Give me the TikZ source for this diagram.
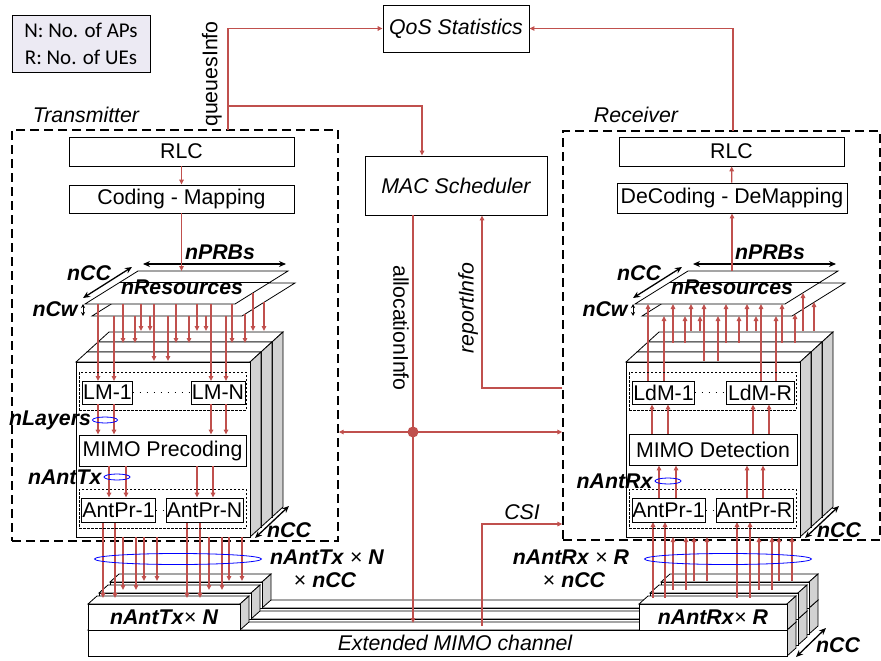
\documentclass[tikz,border=0pt]{standalone}
\usepackage{fontspec}
\setmainfont{Liberation Sans}
\newfontfamily\legendfont{Carlito}
\usetikzlibrary{arrows.meta,positioning,shapes.geometric,calc}

\definecolor{linkred}{RGB}{192,80,77}
\definecolor{sidegray}{RGB}{210,210,210}
\definecolor{legendbg}{RGB}{236,234,243}

\tikzset{
  box/.style={draw, line width=0.8pt, fill=white, inner sep=0.5pt},
  face/.style={draw, line width=0.8pt, fill=white},
  lbl/.style={font=\fontsize{21.3}{24}\selectfont\bfseries\itshape, inner sep=0pt},
  rarr/.style={draw=linkred, line width=1.3pt, ->},
  rline/.style={draw=linkred, line width=1.3pt},
  dimarr/.style={line width=1.3pt, {Stealth[length=7pt,width=6pt]}-{Stealth[length=7pt,width=6pt]}},
  bigdash/.style={draw, line width=1.3pt, dash pattern=on 9pt off 5pt, inner sep=0pt},
  grpdash/.style={draw, line width=0.9pt, dash pattern=on 2.5pt off 1.5pt, inner sep=0pt},
  dotline/.style={line width=0.8pt, dash pattern=on 1pt off 6pt},
  ring/.style={ellipse, draw=blue, line width=0.8pt, inner sep=0pt},
}

% one slab: front top-left corner, width, height, depth dx dy
\newcommand{\slab}[6]{%
  \filldraw[face] (#1,#2) -- ++(#5,-#6) -- ++(#3,0) -- ++(-#5,#6) -- cycle;
  \filldraw[face,fill=sidegray] (#1+#3,#2) -- ++(#5,-#6) -- ++(0,#4) -- ++(-#5,#6) -- cycle;
  \filldraw[face] (#1,#2) rectangle ++(#3,#4);
}

% resource grid over the carrier slabs; #1 arrow direction, #2 name prefix
\newcommand{\gridstack}[2]{%
  \foreach \k in {2,1,0}{\slab{76+11*\k}{362-10*\k}{174}{175}{11}{10}}
  \filldraw[face] (145,283) -- (295,283) -- (242,316) -- (92,316) -- cycle;
  \filldraw[face] (138,271) -- (288,271) -- (235,304) -- (85,304) -- cycle;
  \draw[face] (120,282) -- (271,282);
  \foreach \x/\ya/\yb in {98/304/381,114/316/381,123/304/343,135/316/343,141/304/331,150/316/331,
      154/304/361,168/316/361,176/304/343,189/316/343,197/304/331,206/316/331,211/304/381,226/316/381,
      232/304/343,245/314/343,253/293/331,264/302/331}
    \draw[rarr,#1] (\x,\ya) -- (\x,\yb);
  \foreach \x/\ya/\yb in {103/522/598,115/522/598,187/522/598,200/522/598,123/537/590,136/537/590,
      209/537/590,222/537/590,144/537/581,157/537/581,229/537/581,242/537/581}
    \draw[rarr,#1] (\x,\ya) -- (\x,\yb);
  \draw[dimarr] (143,264) -- (286,264);
  \node[lbl] (#2prb) at (220,252) {nPRBs};
  \node[lbl] (#2res) at (182,287) {nResources};
  \draw[dimarr] (132,267) -- (83,298);
  \node[lbl] (#2cc) at (89,273) {nCC};
  \draw[line width=0.8pt, {Stealth[length=4pt,width=4pt]}-{Stealth[length=4pt,width=4pt]}] (83,304) -- (83,316);
  \node[lbl] (#2cw) at (55,309) {nCw};
  \draw[dimarr] (255,538) -- (289,506);
  \node[lbl] (#2slabcc) at (289,530) {nCC};
  \node[ring, minimum width=167, minimum height=11] (#2ring) at (178,559) {};
}

\begin{document}
\begin{tikzpicture}[x=1pt, y=-1pt, font=\fontsize{21.3}{24}\selectfont, >={Triangle[length=5pt,width=4.5pt]}]
\useasboundingbox (0,0) rectangle (881,661);

% legend and shared blocks
\node[draw, line width=0.8pt, fill=legendbg, minimum width=138, minimum height=57, align=center,
  font=\legendfont\fontsize{21}{27}\selectfont] (legend) at (81,43.5) {N: No. of APs\\R: No. of UEs};
\node[box, minimum width=146, minimum height=47] (qos) at (456,28.5) {\itshape QoS Statistics};
\node[box, minimum width=182, minimum height=59] (mac) at (456,185.5) {\itshape MAC Scheduler};

% frames
\node[bigdash, minimum width=326, minimum height=411] (txBox) at (175,335.5) {};
\node[bigdash, minimum width=317, minimum height=409] (rxBox) at (721.5,335.5) {};
\node (txName) at (86,115) {\itshape Transmitter};
\node (rxName) at (636,115) {\itshape Receiver};

% channel
\foreach \k in {2,1,0}{
  \slab{88+11*\k}{630-11*\k}{699}{26}{9}{8}
  \slab{88+11*\k}{604-11*\k}{152}{26}{9}{8}
  \slab{639+11*\k}{604-11*\k}{148}{26}{9}{8}
}
\node[lbl] (txAnt) at (164,617) {nAntTx\textnormal{×} N};
\node[lbl] (rxAnt) at (713,617) {nAntRx\textnormal{×} R};
\node (chName) at (455,643) {\itshape Extended MIMO channel};
\draw[dimarr] (796,657) -- (826,628);
\node[lbl] (chCC) at (838,645) {nCC};
\node[lbl] (txSumA) at (327,557) {nAntTx \textnormal{×} N};
\node[lbl] (txSumB) at (325,580) {\textnormal{×} nCC};
\node[lbl] (rxSumA) at (571,557) {nAntRx \textnormal{×} R};
\node[lbl] (rxSumB) at (574,580) {\textnormal{×} nCC};

% transmitter
\begin{scope}
\gridstack{->}{t}
\node[grpdash, minimum width=167, minimum height=38] (lmGrp) at (162.5,391) {};
\node[box, minimum width=49, minimum height=23] (lmA) at (107.5,392.5) {LM-1};
\node[box, minimum width=54, minimum height=23] (lmN) at (218,392.5) {LM-N};
\draw[dotline] (lmA) -- (lmN);
\node[box, minimum width=167, minimum height=31] (prec) at (162.5,450.5) {MIMO Precoding};
\node[grpdash, minimum width=167, minimum height=39] (apGrp) at (162.5,508.5) {};
\node[box, minimum width=71, minimum height=24] (apA) at (118.5,510) {AntPr-1};
\node[box, minimum width=77, minimum height=24] (apN) at (204.5,510) {AntPr-N};
\draw[dotline] (apA) -- (apN);
\foreach \x in {98,114} \draw[rarr] (\x,0 |- lmA.south) -- (\x,0 |- prec.north);
\foreach \x in {211,226} \draw[rarr] (\x,0 |- lmN.south) -- (\x,0 |- prec.north);
\foreach \x in {109,126} \draw[rarr] (\x,0 |- prec.south) -- (\x,0 |- apA.north);
\foreach \x in {197,213} \draw[rarr] (\x,0 |- prec.south) -- (\x,0 |- apN.north);
\node[ring, minimum width=25, minimum height=6] (layRing) at (105,420) {};
\node[lbl, left=1pt of layRing] (layLbl) {nLayers};
\node[ring, minimum width=26, minimum height=6] (txRing) at (117,477) {};
\node[lbl, left=2pt of txRing] (txLbl) {nAntTx};
\end{scope}

% receiver
\begin{scope}[xshift=550pt]
\gridstack{<-}{r}
\node[grpdash, minimum width=167, minimum height=38] (ldGrp) at (162.5,391) {};
\node[box, minimum width=61, minimum height=23] (ldA) at (113.5,392.5) {LdM-1};
\node[box, minimum width=68, minimum height=23] (ldR) at (210,392.5) {LdM-R};
\draw[dotline] (ldA) -- (ldR);
\node[box, minimum width=168, minimum height=31] (det) at (163,449.5) {MIMO Detection};
\node[grpdash, minimum width=167, minimum height=39] (arGrp) at (162.5,508.5) {};
\node[box, minimum width=71, minimum height=24] (arA) at (118.5,510) {AntPr-1};
\node[box, minimum width=77, minimum height=24] (arR) at (204.5,510) {AntPr-R};
\draw[dotline] (arA) -- (arR);
\foreach \x in {102,118} \draw[rarr] (\x,0 |- det.north) -- (\x,0 |- ldA.south);
\foreach \x in {203,219} \draw[rarr] (\x,0 |- det.north) -- (\x,0 |- ldR.south);
\foreach \x in {109,126} \draw[rarr] (\x,0 |- arA.north) -- (\x,0 |- det.south);
\foreach \x in {197,213} \draw[rarr] (\x,0 |- arR.north) -- (\x,0 |- det.south);
\node[ring, minimum width=26, minimum height=6] (rxRing) at (118,481) {};
\node[lbl, left=2pt of rxRing] (rxLbl) {nAntRx};
\end{scope}

% upper layers
\node[box, minimum width=225, minimum height=29] (rlcT) at (181.5,151.5) {RLC};
\node[box, minimum width=225, minimum height=28] (codT) at (181.5,199) {Coding - Mapping};
\node[box, minimum width=225, minimum height=29] (rlcR) at (731.5,151.5) {RLC};
\node[box, minimum width=230, minimum height=30] (decR) at (732,198) {DeCoding - DeMapping};
\coordinate (gridT) at (182,271);
\coordinate (gridR) at (732,271);
\draw[rarr] (rlcT) -- (codT);
\draw[rarr] (codT.south) -- (codT.south |- gridT);
\draw[rarr] (decR) -- (rlcR);
\draw[rarr] (decR.south |- gridR) -- (decR.south);

% control links
\coordinate (qFoot) at (228,130);
\coordinate (qFork) at (228,106);
\coordinate (rFoot) at (733,131);
\draw[rarr] (qFoot) |- (qos.west);
\draw[rarr] (qFork) -| ([xshift=-34pt]mac.north);
\draw[rarr] (rFoot) |- (qos.east);
\node[rotate=90] (qLbl) at (212,74) {queuesInfo};

\coordinate (hub) at (413,432);
\coordinate (chTop) at (413,623);
\draw[rline] ([xshift=-43pt]mac.south) -- (hub);
\draw[rarr] (hub) -- (chTop);
\draw[rarr] (hub) -- (hub -| txBox.east);
\draw[rarr] (hub) -- (hub -| rxBox.west);
\node[circle, fill=linkred, inner sep=0pt, minimum size=11] (hubDot) at (hub) {};
\node[rotate=-90] (aLbl) at (401,328) {allocationInfo};

\draw[rarr] (rxBox.west |- 0,388) -| ([xshift=26pt]mac.south);
\node[rotate=90] (rLbl) at (468,308) {\itshape reportInfo};

\coordinate (csiFoot) at (482,626);
\draw[rarr] (csiFoot) |- (rxBox.west |- 0,524);
\node (csiLbl) at (522,512) {\itshape CSI};
\end{tikzpicture}
\end{document}
